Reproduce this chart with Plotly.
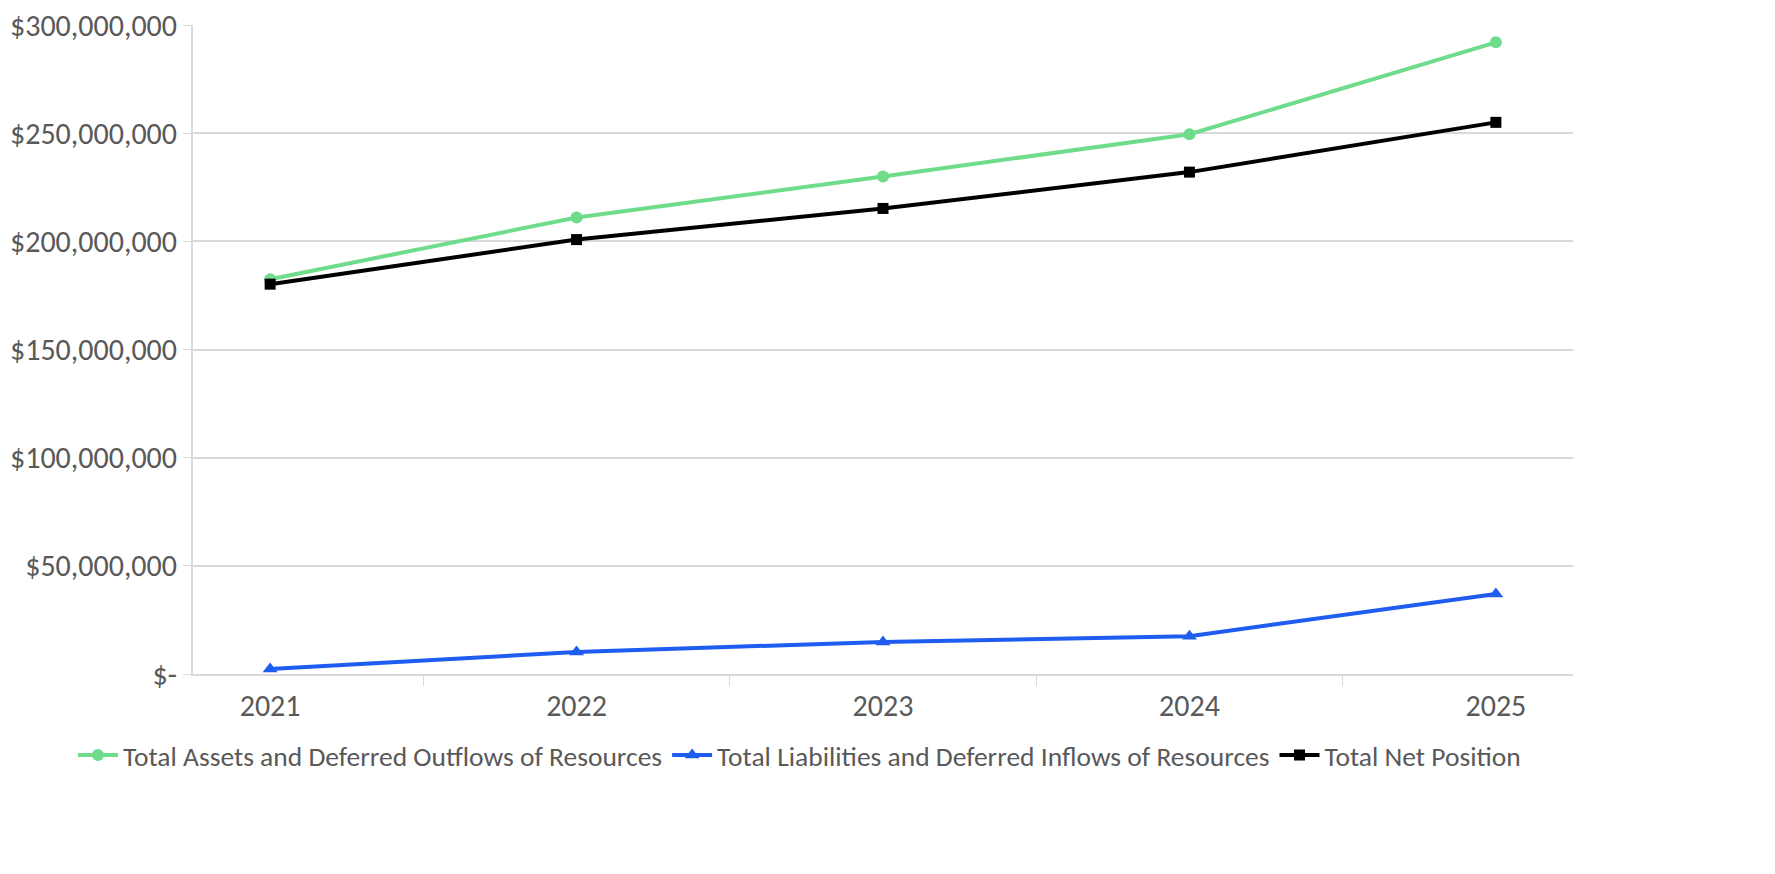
import plotly.graph_objects as go

years = ["2021", "2022", "2023", "2024", "2025"]
assets = [182.5e6, 211.0e6, 230.0e6, 249.5e6, 292.0e6]
liabilities = [2.3e6, 10.2e6, 14.8e6, 17.5e6, 37.0e6]
net_position = [180.2e6, 200.8e6, 215.2e6, 232.0e6, 255.0e6]

y_tickvals = [0, 50e6, 100e6, 150e6, 200e6, 250e6, 300e6]
y_ticktext = ["$-", "$50,000,000", "$100,000,000", "$150,000,000",
              "$200,000,000", "$250,000,000", "$300,000,000"]

names = ["Total Assets and Deferred Outflows of Resources",
         "Total Liabilities and Deferred Inflows of Resources",
         "Total Net Position"]
colors = ["#6fdc8c", "#1f5cf0", "#000000"]
symbols = ["circle", "triangle-up", "square"]
sizes = [12, 13, 11]
series = [assets, liabilities, net_position]

FONT = "Calibri, Carlito, Lato, sans-serif"
fig = go.Figure()
for nm, vals, c, s, sz in zip(names, series, colors, symbols, sizes):
    fig.add_trace(go.Scatter(
        x=years, y=vals, name=nm, mode="lines+markers",
        line=dict(color=c, width=4),
        marker=dict(symbol=s, size=sz, color=c),
    ))

fig.update_layout(
    width=1775, height=874,
    margin=dict(l=185, r=210, t=17, b=208, autoexpand=False),
    paper_bgcolor="white", plot_bgcolor="white",
    font=dict(family=FONT, size=27.5, color="#595959"),
    showlegend=True,
    legend=dict(orientation="h", x=-0.087, xanchor="left", y=-0.125, yanchor="middle",
                font=dict(size=27.5, color="#595959"), itemwidth=40,
                tracegroupgap=0, bgcolor="rgba(0,0,0,0)"),
)
fig.update_xaxes(
    type="category", tickson="boundaries", ticks="outside", ticklen=10,
    tickcolor="#d9d9d9", showgrid=False, showline=True, linecolor="#d9d9d9",
    linewidth=2, tickfont=dict(size=30, color="#595959"), zeroline=False,
    automargin=False, ticklabelstandoff=4, ticklabeloverflow="allow",
)
fig.update_yaxes(
    range=[0, 300e6], tickvals=y_tickvals, ticktext=y_ticktext,
    showgrid=True, gridcolor="#d9d9d9", gridwidth=2,
    showline=True, linecolor="#d9d9d9", linewidth=2,
    ticks="outside", ticklen=8, tickcolor="#d9d9d9",
    tickfont=dict(size=30, color="#595959"), zeroline=False,
    automargin=False, ticklabeloverflow="allow",
)

fig.write_html("out.html")
